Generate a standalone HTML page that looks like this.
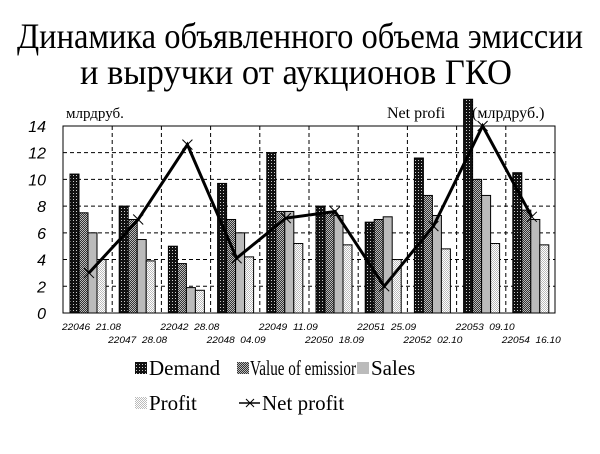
<!DOCTYPE html>
<html><head><meta charset="utf-8"><style>
html,body{margin:0;padding:0;background:#fff;}
svg{display:block;}
</style></head><body>
<svg id="c" width="600" height="454" xmlns="http://www.w3.org/2000/svg">
<defs>
<pattern id="pD" width="3" height="3" patternUnits="userSpaceOnUse"><rect width="3" height="3" fill="#111"/><rect x="1" y="1" width="1" height="1" fill="#ccc"/></pattern>
<pattern id="pV" width="2" height="2" patternUnits="userSpaceOnUse"><rect width="2" height="2" fill="#333"/><rect width="1" height="1" fill="#bbb"/><rect x="1" y="1" width="1" height="1" fill="#bbb"/></pattern>
<pattern id="pP" width="2" height="2" patternUnits="userSpaceOnUse"><rect width="2" height="2" fill="#fff"/><rect width="1" height="1" fill="#bbb"/><rect x="1" y="1" width="1" height="1" fill="#bbb"/></pattern>
</defs>
<text x="300" y="48" text-anchor="middle" font-family="Liberation Serif, serif" font-size="36" textLength="566" lengthAdjust="spacingAndGlyphs">Динамика объявленного объема эмиссии</text>
<text x="296" y="84" text-anchor="middle" font-family="Liberation Serif, serif" font-size="36" textLength="432" lengthAdjust="spacingAndGlyphs">и выручки от аукционов ГКО</text>
<g id="plot"></g>
<text x="66" y="118" font-family="Liberation Serif, serif" font-size="15">млрдруб.</text>
<text x="387" y="118" font-family="Liberation Serif, serif" font-size="16">Net profi</text>
<text x="472" y="118" font-family="Liberation Serif, serif" font-size="16">(млрдруб.)</text>
<g font-family="Liberation Serif, serif" font-size="21">
<rect x="135" y="362" width="12" height="12" fill="url(#pD)"/>
<text x="149" y="375">Demand</text>
<rect x="237" y="362" width="12" height="12" fill="url(#pV)"/>
<text x="250" y="375" textLength="106" lengthAdjust="spacingAndGlyphs">Value of emissior</text>
<rect x="357" y="362" width="12" height="12" fill="#bbb"/>
<text x="371" y="375">Sales</text>
<rect x="135" y="397" width="12" height="12" fill="url(#pP)"/>
<text x="149" y="410">Profit</text>
<line x1="239" y1="403" x2="260" y2="403" stroke="#000" stroke-width="1.5"/>
<path d="M246 399 L254 407 M254 399 L246 407" stroke="#000" stroke-width="1"/>
<text x="262" y="410">Net profit</text>
</g>
</svg>
<script>
(function(){
var g=document.getElementById('plot'),h='';
function Y(v){return 313-13.36*v;}
var L=63,R=555,T=126,B=313,W=49.2;
for(var k=1;k<=6;k++){var y=Y(2*k);h+='<line x1="'+L+'" y1="'+y+'" x2="'+R+'" y2="'+y+'" stroke="#000" stroke-dasharray="4,3"/>';}
for(var i=1;i<10;i++){var x=L+W*i;h+='<line x1="'+x+'" y1="'+T+'" x2="'+x+'" y2="'+B+'" stroke="#000" stroke-dasharray="4,3"/>';}
h+='<rect x="'+L+'" y="'+T+'" width="'+(R-L)+'" height="'+(B-T)+'" fill="none" stroke="#000"/>';
var d=[[10.4,7.5,6,4],[8,7,5.5,3.9],[5,3.7,1.9,1.7],[9.7,7,6,4.2],[12,7.6,7.6,5.2],[8,7.5,7.3,5.1],[6.8,7,7.2,4],[11.6,8.8,7.3,4.8],[16,10,8.8,5.2],[10.5,7.7,7,5.1]];
var f=['url(#pD)','url(#pV)','#bbb','url(#pP)'];
for(i=0;i<10;i++){for(var j=0;j<4;j++){var v=d[i][j],x=L+W*i+7+9*j,y=Math.max(Y(v),97);
h+='<rect x="'+x+'" y="'+y+'" width="9" height="'+(B-y)+'" fill="'+f[j]+'" stroke="#000" stroke-width="1"/>';}}
var np=[3,7,12.6,4.1,7.1,7.6,2,6.5,14,7.2],pts=[];
for(i=0;i<10;i++){pts.push((L+W*i+26)+','+Y(np[i]));}
h+='<polyline points="'+pts.join(' ')+'" fill="none" stroke="#000" stroke-width="3"/>';
for(i=0;i<10;i++){var x=L+W*i+26,y=Y(np[i]);h+='<path d="M'+(x-5)+' '+(y-5)+' L'+(x+5)+' '+(y+5)+' M'+(x+5)+' '+(y-5)+' L'+(x-5)+' '+(y+5)+'" stroke="#000" stroke-width="1"/>';}
for(k=0;k<=7;k++){h+='<text x="46" y="'+(Y(2*k)+6)+'" text-anchor="end" font-family="Liberation Sans, sans-serif" font-style="italic" font-size="16">'+(2*k)+'</text>';}
var lab=['22046  21.08','22047  28.08','22042  28.08','22048  04.09','22049  11.09','22050  18.09','22051  25.09','22052  02.10','22053  09.10','22054  16.10'];
for(i=0;i<10;i++){var x=L+W*i-1+(i%2?-3:0),y=(i%2)?343:330;
h+='<text x="'+x+'" y="'+y+'" font-family="Liberation Sans, sans-serif" font-style="italic" font-size="9" xml:space="preserve" textLength="59" lengthAdjust="spacingAndGlyphs">'+lab[i]+'</text>';}
g.innerHTML=h;
})();
</script>
</body></html>
